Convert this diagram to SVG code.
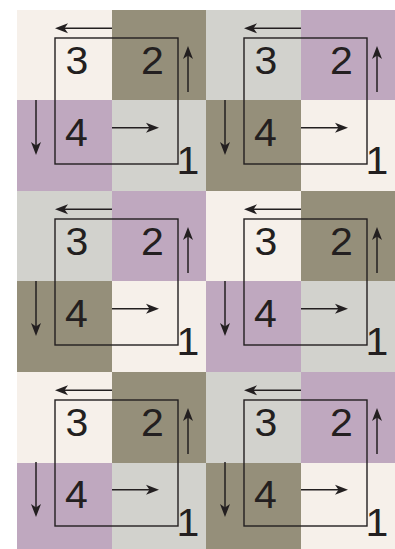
<svg xmlns="http://www.w3.org/2000/svg" width="395" height="549" viewBox="0 0 395 549">
<style>
.cr{fill:#f6f0ea}.ol{fill:#958f7a}.pu{fill:#bfa8bf}.gr{fill:#d2d2cd}
.box{fill:none;stroke:#231f20;stroke-width:1.4}
.lbl{font-family:"Liberation Sans",Arial,sans-serif;font-size:38px;fill:#231f20}
.arr{stroke:#231f20;stroke-width:1.5;fill:none;marker-end:url(#ah)}
</style>
<defs>
<marker id="ah" markerUnits="userSpaceOnUse" viewBox="-6 -6 15 12" refX="0" refY="0" markerWidth="15" markerHeight="12" orient="auto">
<path d="M8,0 L-5,-5 L-1.5,0 L-5,5 Z" fill="#231f20"/>
</marker>
</defs>
<rect width="395" height="549" fill="#ffffff"/>
<g id="panel-1">
<rect class="cr" x="17" y="10" width="95" height="90"/><rect class="ol" x="112" y="10" width="94" height="90"/>
<rect class="pu" x="17" y="100" width="95" height="91"/><rect class="gr" x="112" y="100" width="94" height="91"/>
<rect class="box" x="55" y="38" width="123" height="126"/>
<text class="lbl" transform="translate(65.5,74) scale(1.08,1)">3</text>
<text class="lbl" transform="translate(141,74) scale(1.08,1)">2</text>
<text class="lbl" transform="translate(65,146) scale(1.08,1)">4</text>
<text class="lbl" transform="translate(176.5,174) scale(1.08,1)">1</text>
</g>
<g id="panel-2" transform="translate(189,0)">
<rect class="gr" x="17" y="10" width="95" height="90"/><rect class="pu" x="112" y="10" width="94" height="90"/>
<rect class="ol" x="17" y="100" width="95" height="91"/><rect class="cr" x="112" y="100" width="94" height="91"/>
<rect class="box" x="55" y="38" width="123" height="126"/>
<text class="lbl" transform="translate(65.5,74) scale(1.08,1)">3</text>
<text class="lbl" transform="translate(141,74) scale(1.08,1)">2</text>
<text class="lbl" transform="translate(65,146) scale(1.08,1)">4</text>
<text class="lbl" transform="translate(176.5,174) scale(1.08,1)">1</text>
</g>
<g id="panel-3" transform="translate(0,181)">
<rect class="gr" x="17" y="10" width="95" height="90"/><rect class="pu" x="112" y="10" width="94" height="90"/>
<rect class="ol" x="17" y="100" width="95" height="91"/><rect class="cr" x="112" y="100" width="94" height="91"/>
<rect class="box" x="55" y="38" width="123" height="126"/>
<text class="lbl" transform="translate(65.5,74) scale(1.08,1)">3</text>
<text class="lbl" transform="translate(141,74) scale(1.08,1)">2</text>
<text class="lbl" transform="translate(65,146) scale(1.08,1)">4</text>
<text class="lbl" transform="translate(176.5,174) scale(1.08,1)">1</text>
</g>
<g id="panel-4" transform="translate(189,181)">
<rect class="cr" x="17" y="10" width="95" height="90"/><rect class="ol" x="112" y="10" width="94" height="90"/>
<rect class="pu" x="17" y="100" width="95" height="91"/><rect class="gr" x="112" y="100" width="94" height="91"/>
<rect class="box" x="55" y="38" width="123" height="126"/>
<text class="lbl" transform="translate(65.5,74) scale(1.08,1)">3</text>
<text class="lbl" transform="translate(141,74) scale(1.08,1)">2</text>
<text class="lbl" transform="translate(65,146) scale(1.08,1)">4</text>
<text class="lbl" transform="translate(176.5,174) scale(1.08,1)">1</text>
</g>
<g id="panel-5" transform="translate(0,362)">
<rect class="cr" x="17" y="10" width="95" height="91"/><rect class="ol" x="112" y="10" width="94" height="91"/>
<rect class="pu" x="17" y="101" width="95" height="100"/><rect class="gr" x="112" y="101" width="94" height="100"/>
<rect class="box" x="55" y="38" width="123" height="126"/>
<text class="lbl" transform="translate(65.5,74) scale(1.08,1)">3</text>
<text class="lbl" transform="translate(141,74) scale(1.08,1)">2</text>
<text class="lbl" transform="translate(65,146) scale(1.08,1)">4</text>
<text class="lbl" transform="translate(176.5,174) scale(1.08,1)">1</text>
</g>
<g id="panel-6" transform="translate(189,362)">
<rect class="gr" x="17" y="10" width="95" height="91"/><rect class="pu" x="112" y="10" width="94" height="91"/>
<rect class="ol" x="17" y="101" width="95" height="100"/><rect class="cr" x="112" y="101" width="94" height="100"/>
<rect class="box" x="55" y="38" width="123" height="126"/>
<text class="lbl" transform="translate(65.5,74) scale(1.08,1)">3</text>
<text class="lbl" transform="translate(141,74) scale(1.08,1)">2</text>
<text class="lbl" transform="translate(65,146) scale(1.08,1)">4</text>
<text class="lbl" transform="translate(176.5,174) scale(1.08,1)">1</text>
</g>
<g id="connectors">
<g transform="translate(0,0)">
<path class="arr" d="M112,28.3 H63"/><path class="arr" d="M188,92 V54"/><path class="arr" d="M36,100 V147"/><path class="arr" d="M112,127.7 H151"/>
</g>
<g transform="translate(189,0)">
<path class="arr" d="M112,28.3 H63"/><path class="arr" d="M188,92 V54"/><path class="arr" d="M36,100 V147"/><path class="arr" d="M112,127.7 H151"/>
</g>
<g transform="translate(0,181)">
<path class="arr" d="M112,28.3 H63"/><path class="arr" d="M188,92 V54"/><path class="arr" d="M36,100 V147"/><path class="arr" d="M112,127.7 H151"/>
</g>
<g transform="translate(189,181)">
<path class="arr" d="M112,28.3 H63"/><path class="arr" d="M188,92 V54"/><path class="arr" d="M36,100 V147"/><path class="arr" d="M112,127.7 H151"/>
</g>
<g transform="translate(0,362)">
<path class="arr" d="M112,28.3 H63"/><path class="arr" d="M188,92 V54"/><path class="arr" d="M36,100 V147"/><path class="arr" d="M112,127.7 H151"/>
</g>
<g transform="translate(189,362)">
<path class="arr" d="M112,28.3 H63"/><path class="arr" d="M188,92 V54"/><path class="arr" d="M36,100 V147"/><path class="arr" d="M112,127.7 H151"/>
</g>
</g>
</svg>
